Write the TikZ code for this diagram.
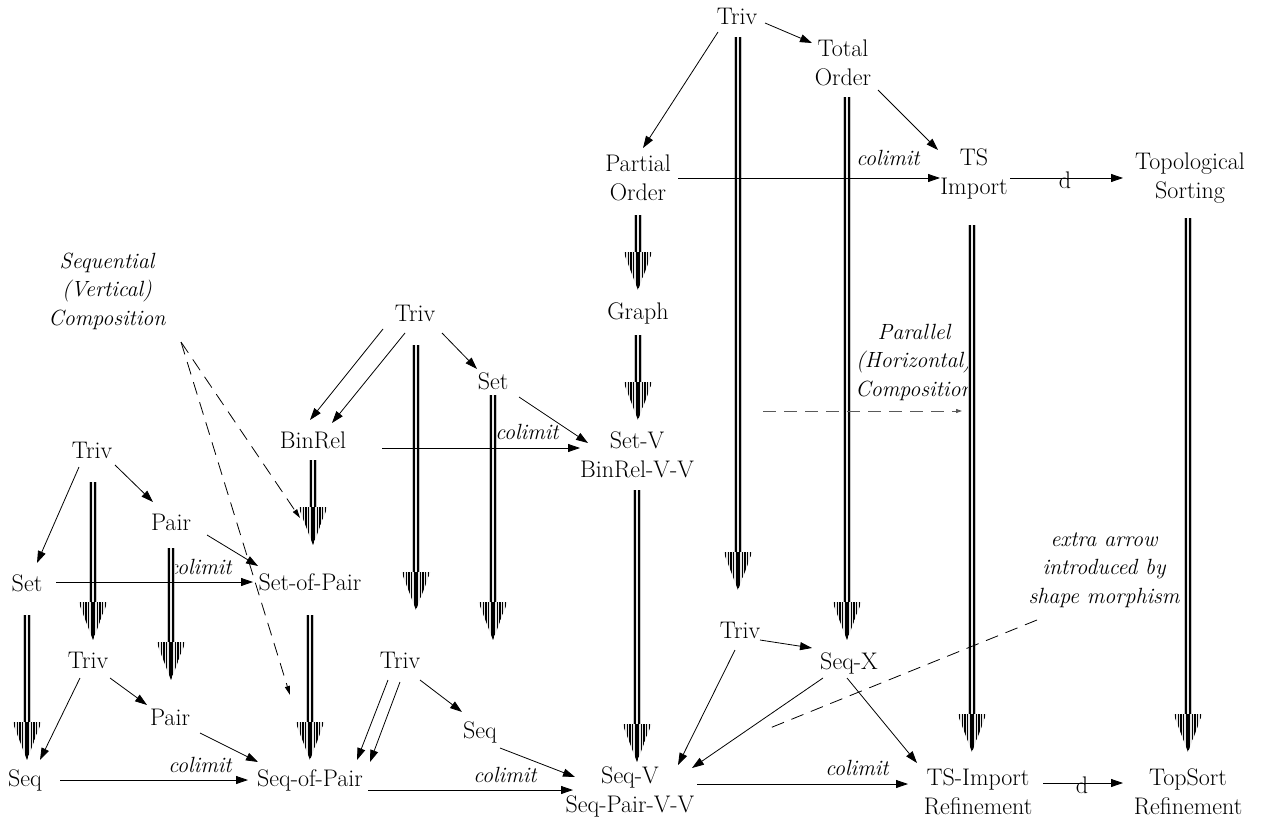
\documentclass[tikz,border=0pt]{standalone}
\usepackage{fontspec}
\usetikzlibrary{arrows.meta,calc}
\newcommand\thickarr[2]{%
  \coordinate (ss) at #1;
  \coordinate (tt0) at #2;
  \coordinate (tt) at (ss |- tt0);
  \draw[line width=8pt,gray!45] (ss) -- ($(tt)+(0,-34)$);
  \draw[line width=5.5pt,black] (ss) -- ($(tt)+(0,-34)$);
  \draw[line width=2pt,gray!15] (ss) -- ($(tt)+(0,-34)$);
  \fill[gray!20, path picture={\foreach \i in {-15.4,-12.6,...,15.5}{\draw[line width=1.2pt,black] ($(tt)+(\i,-42)$) -- ($(tt)+(\i,0)$);}
      \draw[line width=2.5pt,black] ($(tt)+(0,-42)$) -- (tt);}]
    ($(tt)+(-14.5,-38)$) -- ($(tt)+(14.5,-38)$) -- (tt) -- cycle;
}
\tikzset{
  nd/.style={font=\fontsize{24}{29.5}\selectfont, align=center, inner sep=0pt},
  it/.style={font=\fontsize{22}{28.5}\selectfont\itshape, align=center, inner sep=0pt},
  arr/.style={line width=0.8pt, -{Triangle[length=12pt,width=8pt]}},
  dsh/.style={line width=0.8pt, dash pattern=on 13pt off 8pt, -{Triangle[length=9pt,width=5pt]}},
}
\begin{document}
\begin{tikzpicture}[x=1pt,y=-1pt]
\useasboundingbox (0,0) rectangle (1267,824);
% nodes
\node[nd] (tA) at (737,16) {Triv};
\node[nd] (to) at (843,63) {Total\\Order};
\node[nd] (po) at (638,178) {Partial\\Order};
\node[nd] (ts) at (974,174) {TS\\Import};
\node[nd] (tps) at (1190,178) {Topological\\Sorting};
\node[nd] (gr) at (638,313) {Graph};
\node[nd] (sv) at (637,455) {Set-V\\BinRel-V-V};
\node[nd] (tB) at (415,313) {Triv};
\node[nd] (setB) at (493,381) {Set};
\node[nd] (br) at (313,440) {BinRel};
\node[nd] (tC) at (92,450) {Triv};
\node[nd] (pC) at (171,522) {Pair};
\node[nd] (setC) at (27,583) {Set};
\node[nd] (sop) at (310,582) {Set-of-Pair};
\node[nd] (tD) at (88,660) {Triv};
\node[nd] (pD) at (170,717) {Pair};
\node[nd] (seqD) at (25,780) {Seq};
\node[nd] (seqop) at (310,780) {Seq-of-Pair};
\node[nd] (tE) at (400,660) {Triv};
\node[nd] (seqE) at (480,732) {Seq};
\node[nd] (seqv) at (630,792) {Seq-V\\Seq-Pair-V-V};
\node[nd] (tF) at (740,630) {Triv};
\node[nd] (sx) at (849,663) {Seq-X};
\node[nd] (tsr) at (978,792) {TS-Import\\Refinement};
\node[nd] (tpr) at (1188,792) {TopSort\\Refinement};
% italic labels
\node[it] (seqlab) at (107,291) {Sequential\\(Vertical)\\Composition};
\node[it] (parlab) at (914,362) {Parallel\\(Horizontal)\\Composition};
\node[it] (extlab) at (1104,570) {extra arrow\\introduced by\\shape morphism};
\node[it] (cl1) at (888,158) {colimit};
\node[it] (cl2) at (527,432) {colimit};
\node[it] (cl3) at (200,567) {colimit};
\node[it] (cl4) at (200,765) {colimit};
\node[it] (cl5) at (505,775) {colimit};
\node[it] (cl6) at (857,768) {colimit};
\node[nd] (d1) at (1065,180) {d};
\node[nd] (d2) at (1082,785) {d};
% thick arrows
\thickarr{($(po)+(0,37)$)}{($(gr)+(0,-23)$)}
\thickarr{($(gr)+(0,22)$)}{($(sv)+(0,-35)$)}
\thickarr{($(sv)+(0,35)$)}{($(seqv)+(0,-30)$)}
\thickarr{($(tA)+(1,21)$)}{($(tF)+(0,-40)$)}
\thickarr{($(to)+(4,34)$)}{($(sx)+(0,-23)$)}
\thickarr{($(ts)+(-2,51)$)}{($(tsr)+(0,-40)$)}
\thickarr{($(tps)+(-2,40)$)}{($(tpr)+(0,-40)$)}
\thickarr{($(tB)+(1,32)$)}{($(tE)+(0,-50)$)}
\thickarr{($(setB)+(0,14)$)}{($(seqE)+(0,-92)$)}
\thickarr{($(br)+(0,20)$)}{($(sop)+(0,-37)$)}
\thickarr{($(sop)+(0,33)$)}{($(seqop)+(0,-20)$)}
\thickarr{($(tC)+(1,32)$)}{($(tD)+(0,-20)$)}
\thickarr{($(pC)+(0,26)$)}{($(pD)+(0,-37)$)}
\thickarr{($(setC)+(0,32)$)}{($(seqD)+(0,-20)$)}
% thin arrows
\draw[arr] ($(tA)+(-19,16)$) -- ($(po)+(5,-30)$);
\draw[arr] ($(tA)+(28,7)$) -- ($(to)+(-31,-20)$);
\draw[arr] ($(to)+(35,27)$) -- ($(ts)+(-36,-24)$);
\draw[arr] ($(po)+(40,0)$) -- ($(ts)+(-34,4)$);
\draw[arr] ($(ts)+(36,4)$) -- ($(tps)+(-67,0)$);
\draw[arr] ($(tB)+(-32,16)$) -- ($(br)+(-3,-20)$);
\draw[arr] ($(tB)+(-10,20)$) -- ($(br)+(19,-17)$);
\draw[arr] ($(tB)+(27,20)$) -- ($(setB)+(-16,-12)$);
\draw[arr] ($(setB)+(26,16)$) -- ($(sv)+(-49,-12)$);
\draw[arr] ($(br)+(69,8)$) -- ($(sv)+(-57,-7)$);
\draw[arr] ($(tC)+(-13,17)$) -- ($(setC)+(10,-20)$);
\draw[arr] ($(tC)+(23,15)$) -- ($(pC)+(-18,-20)$);
\draw[arr] ($(pC)+(36,13)$) -- ($(sop)+(-52,-16)$);
\draw[arr] ($(setC)+(29,-1)$) -- ($(sop)+(-57,0)$);
\draw[arr] ($(tD)+(-8,18)$) -- ($(seqD)+(15,-20)$);
\draw[arr] ($(tD)+(22,18)$) -- ($(pD)+(-23,-12)$);
\draw[arr] ($(pD)+(30,16)$) -- ($(seqop)+(-52,-18)$);
\draw[arr] ($(seqD)+(35,0)$) -- ($(seqop)+(-62,0)$);
\draw[arr] ($(tE)+(-12,20)$) -- ($(seqop)+(47,-20)$);
\draw[arr] ($(tE)+(0,22)$) -- ($(seqop)+(60,-18)$);
\draw[arr] ($(tE)+(20,20)$) -- ($(seqE)+(-18,-20)$);
\draw[arr] ($(seqE)+(20,16)$) -- ($(seqv)+(-55,-15)$);
\draw[arr] ($(seqop)+(58,10)$) -- ($(seqv)+(-57,-2)$);
\draw[arr] ($(tF)+(-5,20)$) -- ($(seqv)+(48,-27)$);
\draw[arr] ($(tF)+(20,10)$) -- ($(sx)+(-37,-15)$);
\draw[arr] ($(sx)+(-26,15)$) -- ($(seqv)+(62,-24)$);
\draw[arr] ($(sx)+(-2,15)$) -- ($(tsr)+(-61,-29)$);
\draw[arr] ($(seqv)+(67,-8)$) -- ($(tsr)+(-70,-8)$);
\draw[arr] ($(tsr)+(65,-9)$) -- ($(tpr)+(-65,-9)$);
% dashed
\draw[dsh] ($(seqlab)+(74,51)$) -- ($(sop)+(-10,-64)$);
\draw[dsh] ($(seqlab)+(74,51)$) -- ($(seqop)+(-20,-85)$);
\coordinate (pA) at ($(parlab)+(-151,49)$);
\coordinate (pB) at ($(parlab)+(48,49)$);
\draw[dsh, gray!70!black, line width=0.9pt, -{Triangle[length=6pt,width=4pt]}] (pA) -- (pB);
\coordinate (eB) at (765,730);
\draw[line width=0.8pt, dash pattern=on 13pt off 8pt] ($(extlab)+(-67,50)$) -- (eB);
\end{tikzpicture}
\end{document}
